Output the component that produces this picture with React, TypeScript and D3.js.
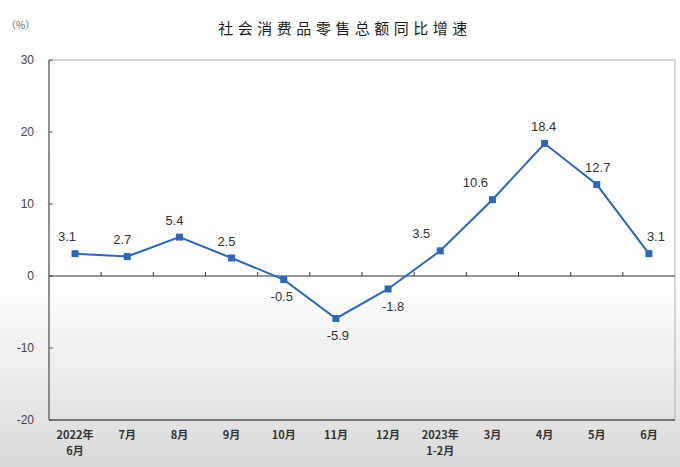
import React from "react";
import * as d3 from "d3";

const categories: string[][] = [
  ["2022年", "6月"], ["7月"], ["8月"], ["9月"], ["10月"], ["11月"], ["12月"],
  ["2023年", "1-2月"], ["3月"], ["4月"], ["5月"], ["6月"],
];
const growth: number[] = [3.1, 2.7, 5.4, 2.5, -0.5, -5.9, -1.8, 3.5, 10.6, 18.4, 12.7, 3.1];
const yTicks: number[] = [30, 20, 10, 0, -10, -20];
const title = "社会消费品零售总额同比增速";
const unit = "（%）";

// label horizontal nudges (layout)
const labelShift: number[] = [-8, -5, -5, -5, -2, 2, 5, -19, -17, -1, 1, 7];

const W = 680, H = 467;
const M = { left: 49, right: 675, top: 60, bottom: 420 };
const LINE = "#2f67b8";

export default function App() {
  const x = d3.scaleBand<number>().domain(d3.range(categories.length)).range([M.left, M.right]);
  const y = d3.scaleLinear().domain([-20, 30]).range([M.bottom, M.top]);
  const cx = (i: number) => (x(i) as number) + x.bandwidth() / 2;
  const line = d3.line<number>().x((_, i) => cx(i)).y((d) => y(d));
  const boundaries = d3.range(1, categories.length).map((i) => x(i) as number);

  return (
    <svg width={W} height={H} style={{ position: "fixed", left: 0, top: 0 }}
      fontFamily="'Liberation Sans', Arial, sans-serif">
      <defs>
        <linearGradient id="bg" x1="0" y1="0" x2="0" y2="1">
          <stop offset="0" stopColor="#ffffff" />
          <stop offset="0.62" stopColor="#fdfdfd" />
          <stop offset="0.8" stopColor="#ececec" />
          <stop offset="1" stopColor="#d9d9d9" />
        </linearGradient>
      </defs>
      <rect width={W} height={H} fill="url(#bg)" />
      <text x={unit === "" ? 0 : 6} y={29} fontSize={10} fill="#666"
        fontFamily="'Noto Sans CJK SC', sans-serif">{unit}</text>
      <text x={345} y={34} textAnchor="middle" fontSize={15} letterSpacing={4.5} fill="#1a1a1a"
        fontFamily="'Noto Sans CJK SC', sans-serif">{title}</text>

      {/* frame */}
      <line x1={M.left} x2={M.right} y1={M.top} y2={M.top} stroke="#b0b0b0" strokeWidth={1} />
      <line x1={M.right} x2={M.right} y1={M.top} y2={M.bottom} stroke="#b0b0b0" strokeWidth={1} />
      <line x1={M.left} x2={M.left} y1={M.top} y2={M.bottom} stroke="#555" strokeWidth={1.3} />
      <line x1={M.left} x2={M.right} y1={M.bottom} y2={M.bottom} stroke="#555" strokeWidth={1.3} />

      {/* y ticks */}
      {yTicks.map((t) => (
        <g key={t}>
          <line x1={M.left} x2={M.left + 4} y1={y(t)} y2={y(t)} stroke="#555" />
          <text x={34} y={y(t)} dy="0.35em" textAnchor="end" fontSize={12} fill="#444">{t}</text>
        </g>
      ))}

      {/* zero line */}
      <line x1={M.left} x2={M.right} y1={y(0)} y2={y(0)} stroke="#333" strokeWidth={1} />
      {boundaries.map((b, i) => (
        <line key={i} x1={b} x2={b} y1={y(0)} y2={y(0) - 4} stroke="#333" />
      ))}

      {/* x labels */}
      {categories.map((c, i) => (
        <text key={i} x={cx(i)} y={439} textAnchor="middle" fontSize={11} fontWeight="bold" fill="#333"
          fontFamily="'Noto Sans CJK SC', sans-serif">
          {c.map((s, j) => (
            <tspan key={j} x={cx(i)} dy={j === 0 ? 0 : 16}>{s}</tspan>
          ))}
        </text>
      ))}

      {/* series */}
      <path d={line(growth) as string} fill="none" stroke={LINE} strokeWidth={2} />
      {growth.map((v, i) => (
        <rect key={i} x={cx(i) - 3.5} y={y(v) - 3.5} width={7} height={7} fill={LINE} />
      ))}
      {growth.map((v, i) => (
        <text key={i} x={cx(i) + labelShift[i]} y={y(v) + (v >= 0 ? -17 : 17)} dy="0.35em"
          textAnchor="middle" fontSize={13} fill="#333">
          {v.toFixed(1)}
        </text>
      ))}
    </svg>
  );
}
